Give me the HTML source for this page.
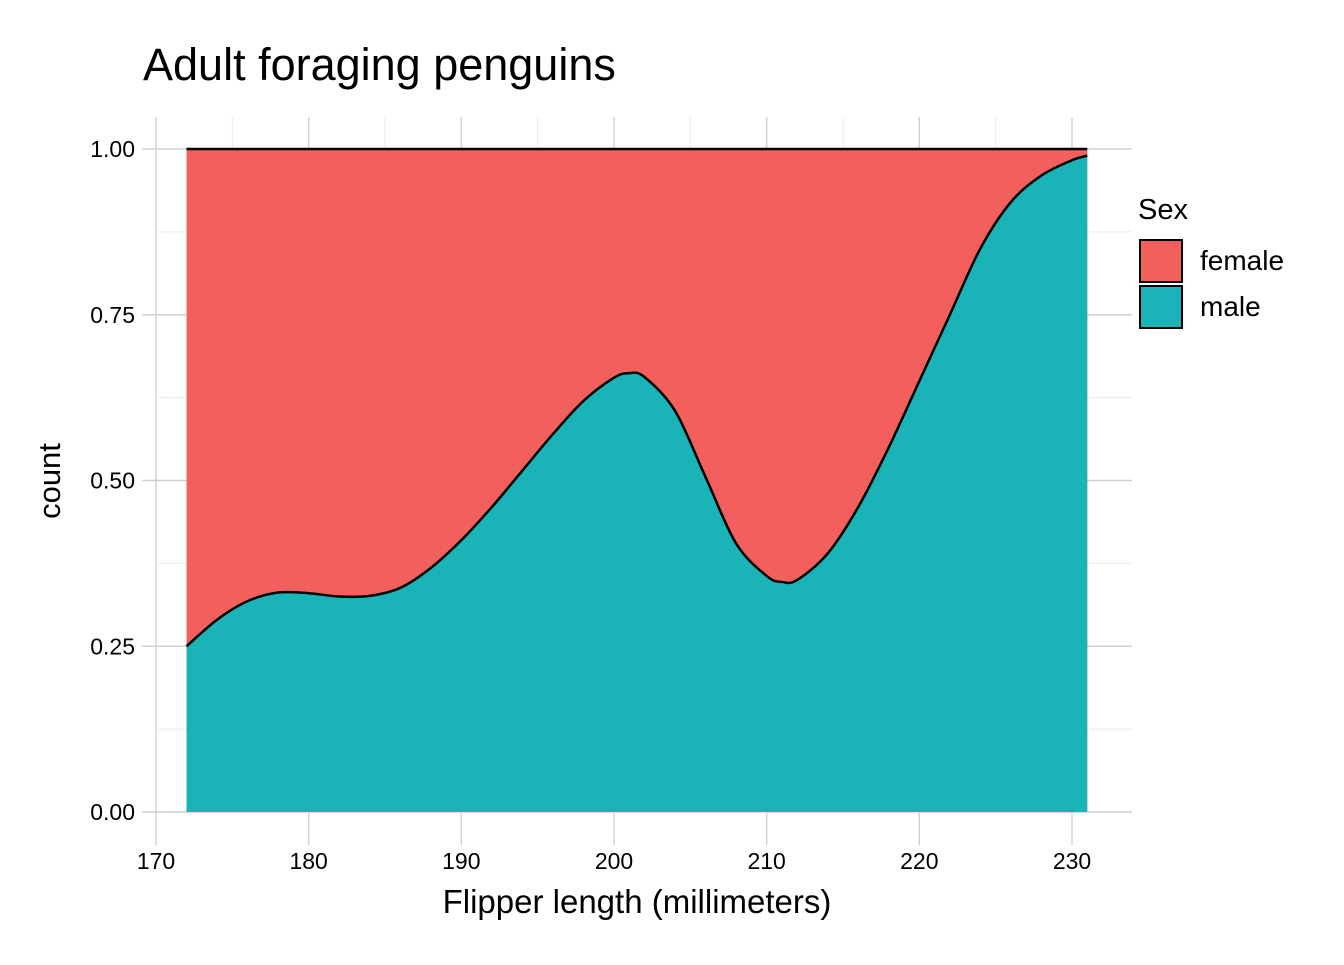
<!DOCTYPE html>
<html><head><meta charset="utf-8"><style>
body{margin:0;background:#fff;}
svg text{font-family:"Liberation Sans",sans-serif;}
</style></head><body>
<svg width="1344" height="960" xmlns="http://www.w3.org/2000/svg">
<g id="grid"></g>
<g id="marks"></g>
<g id="axes"></g>
<text x="143" y="80" font-size="45" fill="#000">Adult foraging penguins</text>
<text x="637" y="913" font-size="33" text-anchor="middle">Flipper length (millimeters)</text>
<text transform="translate(60,481) rotate(-90)" font-size="31" text-anchor="middle">count</text>
<g>
<text x="1138" y="219" font-size="29">Sex</text>
<rect x="1140" y="240" width="42" height="42" fill="#F25F5C" stroke="#000" stroke-width="2"/>
<text x="1200" y="270" font-size="28">female</text>
<rect x="1140" y="286" width="42" height="42" fill="#19B3B8" stroke="#000" stroke-width="2"/>
<text x="1200" y="316" font-size="28">male</text>
</g>
</svg>
<script>
const xVals=[172,174,176,178,180,182,184,186,188,190,192,194,196,198,200,201,202,204,206,208,210,211,212,214,216,218,220,222,224,226,228,230,231];
const maleShare=[0.25,0.29,0.318,0.331,0.33,0.325,0.326,0.338,0.368,0.41,0.46,0.515,0.57,0.62,0.655,0.662,0.656,0.605,0.505,0.405,0.356,0.347,0.35,0.39,0.46,0.55,0.65,0.75,0.85,0.92,0.96,0.983,0.99];
const xTicks=[170,180,190,200,210,220,230];
const yTicks=[0,0.25,0.5,0.75,1];
const yTickLabels=["0.00","0.25","0.50","0.75","1.00"];
const NS="http://www.w3.org/2000/svg";
const X=v=>156+(v-170)*(1072-156)/60;
const Y=v=>812-v*(812-149);
function mk(t,a,p){const e=document.createElementNS(NS,t);for(const k in a)e.setAttribute(k,a[k]);p.appendChild(e);return e;}
const gridG=document.getElementById('grid'),marksG=document.getElementById('marks'),axesG=document.getElementById('axes');
for(let i=0;i<xTicks.length;i++){
 const x=X(xTicks[i]);
 let l=mk('line',{x1:x,x2:x,y1:117,y2:845,stroke:'#cfcfcf','stroke-width':1.4},gridG);
 
 
 if(i<xTicks.length-1){const xm=X(xTicks[i]+5);
  let mm=mk('line',{x1:xm,x2:xm,y1:117,y2:812,stroke:'#ebebeb','stroke-width':1},gridG);
  
  }
 let t=mk('text',{x:x,y:869,'font-size':23,'text-anchor':'middle'},axesG);t.textContent=xTicks[i];
 
 
}
for(let i=0;i<yTicks.length;i++){
 const y=Y(yTicks[i]);
 let l=mk('line',{x1:142,x2:1132,y1:y,y2:y,stroke:'#cfcfcf','stroke-width':1.4},gridG);
 
 
 if(i<yTicks.length-1){const ym=Y(yTicks[i]+0.125);
  let mm=mk('line',{x1:156,x2:1132,y1:ym,y2:ym,stroke:'#ebebeb','stroke-width':1},gridG);
  
  }
 let t=mk('text',{x:135,y:y+8,'font-size':23,'text-anchor':'end'},axesG);t.textContent=yTickLabels[i];
 
 
}
const pts=xVals.map((v,i)=>[X(v),Y(maleShare[i])]);
function smooth(p){let d='';for(let i=0;i<p.length-1;i++){const p0=p[i-1]||p[i],p1=p[i],p2=p[i+1],p3=p[i+2]||p2;
 const c1=[p1[0]+(p2[0]-p0[0])/6,p1[1]+(p2[1]-p0[1])/6],c2=[p2[0]-(p3[0]-p1[0])/6,p2[1]-(p3[1]-p1[1])/6];
 d+=` C${c1[0]},${c1[1]} ${c2[0]},${c2[1]} ${p2[0]},${p2[1]}`;}return d;}
const curveD=`M${pts[0][0]},${pts[0][1]}`+smooth(pts);
const xStart=X(xVals[0]),xEnd=X(xVals[xVals.length-1]);
let femaleArea=mk('rect',{x:xStart,y:Y(1),width:xEnd-xStart,height:Y(0)-Y(1),fill:'#F25F5C'},marksG);


let maleArea=mk('path',{d:curveD+` L${xEnd},${Y(0)} L${xStart},${Y(0)} Z`,fill:'#19B3B8'},marksG);


let maleLine=mk('path',{d:curveD,fill:'none',stroke:'#000','stroke-width':2.5},marksG);


let topLine=mk('line',{x1:xStart,x2:xEnd,y1:Y(1),y2:Y(1),stroke:'#000','stroke-width':2.5},marksG);


</script>
</body></html>
